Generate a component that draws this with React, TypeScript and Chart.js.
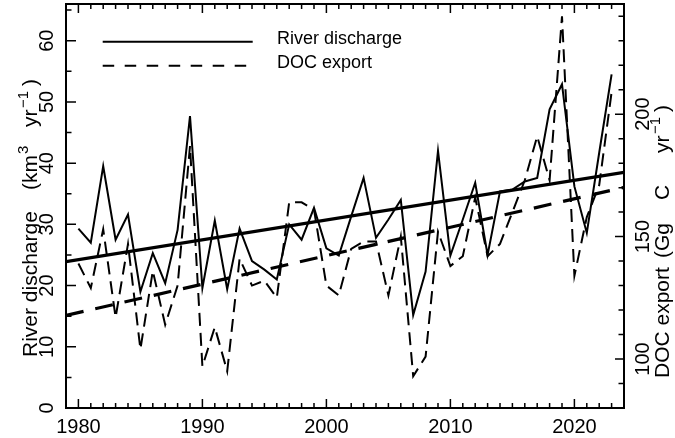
import React, { useEffect, useRef } from 'react';
import { Chart, registerables } from 'chart.js';

Chart.register(...registerables);

const years = [
  1980, 1981, 1982, 1983, 1984, 1985, 1986, 1987, 1988, 1989,
  1990, 1991, 1992, 1993, 1994, 1995, 1996, 1997, 1998, 1999,
  2000, 2001, 2002, 2003, 2004, 2005, 2006, 2007, 2008, 2009,
  2010, 2011, 2012, 2013, 2014, 2015, 2016, 2017, 2018, 2019,
  2020, 2021, 2022, 2023,
];

// River discharge (km3 yr-1), left axis
const riverDischarge = [
  29.3, 27.0, 39.5, 27.5, 31.6, 19.0, 25.3, 20.4, 29.1, 47.7,
  19.6, 30.6, 19.4, 29.3, 24.0, 22.6, 21.0, 30.0, 27.5, 32.7,
  26.1, 24.9, 31.3, 37.6, 27.8, 30.8, 34.0, 15.2, 22.3, 42.0,
  24.9, 30.8, 36.8, 25.0, 35.4, 35.7, 37.0, 37.6, 48.8, 52.9,
  36.2, 28.6, 41.7, 54.5,
];

// DOC export (Gg C yr-1), right axis
const docExport = [
  139, 129, 153, 117, 147, 104, 136, 114, 130, 187,
  97, 113, 95, 141, 130, 132, 125, 164, 164, 161,
  130, 126, 145, 148, 148, 126, 150, 93, 101, 152,
  138, 142, 166, 142, 147, 160, 173, 191, 173, 240,
  134, 158, 171, 209,
];

const trendYears = [1979, 2024];
const dischargeTrend = [23.9, 38.5];
const docTrend = [117.8, 170.1];

const xLabels = [1980, 1990, 2000, 2010, 2020];
const leftLabels = [0, 10, 20, 30, 40, 50, 60];
const rightLabels = [100, 150, 200];

const FONT = '"Liberation Sans", Arial, Helvetica, sans-serif';

type Part = { t: string; at: number; sup?: boolean };

function drawRotatedParts(
  ctx: CanvasRenderingContext2D,
  parts: Part[],
  baseX: number,
  size: number,
  supSize: number,
  supRaise: number
) {
  parts.forEach((p) => {
    ctx.save();
    ctx.translate(baseX, p.at);
    ctx.rotate(-Math.PI / 2);
    ctx.textAlign = 'left';
    ctx.textBaseline = 'alphabetic';
    ctx.font = `${p.sup ? supSize : size}px ${FONT}`;
    ctx.fillText(p.t, 0, p.sup ? -supRaise : 0);
    ctx.restore();
  });
}

function rotText(ctx: CanvasRenderingContext2D, text: string, x: number, y: number) {
  ctx.save();
  ctx.translate(x, y);
  ctx.rotate(-Math.PI / 2);
  ctx.textAlign = 'center';
  ctx.textBaseline = 'alphabetic';
  ctx.fillText(text, 0, 0);
  ctx.restore();
}

const framePlugin = {
  id: 'framePlugin',
  afterDraw(chart: any) {
    const ctx: CanvasRenderingContext2D = chart.ctx;
    const { left, right, top, bottom } = chart.chartArea;
    const xs = chart.scales.x;
    const yl = chart.scales.y;
    const yr = chart.scales.y2;
    ctx.save();
    ctx.strokeStyle = '#000';
    ctx.fillStyle = '#000';

    // ticks
    ctx.lineWidth = 1.5;
    ctx.beginPath();
    for (let yv = Math.ceil(xs.min); yv <= Math.floor(xs.max); yv++) {
      const px = xs.getPixelForValue(yv);
      if (px <= left + 1 || px >= right - 1) continue;
      const len = yv % 10 === 0 ? 9 : 5;
      ctx.moveTo(px, bottom);
      ctx.lineTo(px, bottom - len);
      ctx.moveTo(px, top);
      ctx.lineTo(px, top + len);
    }
    for (let v = 5; v < yl.max; v += 5) {
      const py = yl.getPixelForValue(v);
      const len = v % 10 === 0 ? 10 : 5.5;
      ctx.moveTo(left, py);
      ctx.lineTo(left + len, py);
    }
    for (let v = 90; v < yr.max; v += 10) {
      const py = yr.getPixelForValue(v);
      const len = v % 50 === 0 ? 9 : 5.5;
      ctx.moveTo(right, py);
      ctx.lineTo(right - len, py);
    }
    ctx.stroke();

    // frame
    ctx.lineWidth = 2;
    ctx.strokeRect(left, top, right - left, bottom - top);

    // tick labels
    ctx.font = `20px ${FONT}`;
    ctx.textAlign = 'center';
    ctx.textBaseline = 'alphabetic';
    xLabels.forEach((v) => {
      ctx.fillText(String(v), xs.getPixelForValue(v), 433);
    });
    leftLabels.forEach((v) => {
      rotText(ctx, String(v), 53, yl.getPixelForValue(v));
    });
    rightLabels.forEach((v) => {
      rotText(ctx, String(v), 649, yr.getPixelForValue(v));
    });

    // axis titles
    drawRotatedParts(
      ctx,
      [
        { t: 'River discharge', at: 357 },
        { t: '(km', at: 190 },
        { t: '3', at: 154, sup: true },
        { t: 'yr', at: 127 },
        { t: '\u22121', at: 108, sup: true },
        { t: ')', at: 86 },
      ],
      37,
      21,
      15,
      9
    );
    drawRotatedParts(
      ctx,
      [
        { t: 'DOC export', at: 378 },
        { t: '(Gg', at: 258 },
        { t: 'C', at: 200 },
        { t: 'yr', at: 153 },
        { t: '\u22121', at: 134, sup: true },
        { t: ')', at: 112 },
      ],
      669,
      21,
      15,
      9
    );

    // legend
    ctx.lineWidth = 2;
    ctx.beginPath();
    ctx.moveTo(102.7, 41.7);
    ctx.lineTo(252.7, 41.7);
    ctx.stroke();
    ctx.setLineDash([11.5, 10.5]);
    ctx.beginPath();
    ctx.moveTo(102.7, 65.7);
    ctx.lineTo(252.7, 65.7);
    ctx.stroke();
    ctx.setLineDash([]);
    ctx.font = `18px ${FONT}`;
    ctx.textAlign = 'left';
    ctx.fillText('River discharge', 277, 44);
    ctx.fillText('DOC export', 277, 68);

    ctx.restore();
  },
};

export default function App() {
  const canvasRef = useRef<HTMLCanvasElement | null>(null);

  useEffect(() => {
    document.body.style.margin = '0';
    const canvas = canvasRef.current;
    if (!canvas) return;
    const chart = new Chart(canvas, {
      type: 'line',
      data: {
        datasets: [
          {
            label: 'River discharge',
            data: years.map((yv, i) => ({ x: yv, y: riverDischarge[i] })),
            yAxisID: 'y',
            borderColor: '#000',
            borderWidth: 2,
            pointRadius: 0,
            tension: 0,
            fill: false,
          },
          {
            label: 'DOC export',
            data: years.map((yv, i) => ({ x: yv, y: docExport[i] })),
            yAxisID: 'y2',
            borderColor: '#000',
            borderWidth: 2,
            borderDash: [13, 7],
            pointRadius: 0,
            tension: 0,
            fill: false,
          },
          {
            label: 'Discharge trend',
            data: trendYears.map((yv, i) => ({ x: yv, y: dischargeTrend[i] })),
            yAxisID: 'y',
            borderColor: '#000',
            borderWidth: 3.2,
            pointRadius: 0,
            fill: false,
          },
          {
            label: 'DOC trend',
            data: trendYears.map((yv, i) => ({ x: yv, y: docTrend[i] })),
            yAxisID: 'y2',
            borderColor: '#000',
            borderWidth: 3.2,
            borderDash: [18, 12],
            pointRadius: 0,
            fill: false,
          },
        ],
      },
      options: {
        animation: false,
        responsive: false,
        devicePixelRatio: 1,
        layout: { padding: { top: 4, left: 0, right: 0, bottom: 0 } },
        plugins: {
          legend: { display: false },
          tooltip: { enabled: false },
        },
        scales: {
          x: {
            type: 'linear',
            min: 1979,
            max: 2024,
            ticks: { display: false },
            grid: { display: false },
            border: { display: false },
            afterFit: (s: any) => {
              s.height = 30;
            },
          },
          y: {
            type: 'linear',
            position: 'left',
            min: 0,
            max: 66,
            ticks: { display: false },
            grid: { display: false },
            border: { display: false },
            afterFit: (s: any) => {
              s.width = 66;
            },
          },
          y2: {
            type: 'linear',
            position: 'right',
            min: 80,
            max: 245,
            ticks: { display: false },
            grid: { display: false },
            border: { display: false },
            afterFit: (s: any) => {
              s.width = 51;
            },
          },
        },
      },
      plugins: [framePlugin],
    });
    return () => chart.destroy();
  }, []);

  return (
    <div style={{ width: 675, height: 438, background: '#fff' }}>
      <canvas ref={canvasRef} width={675} height={438} style={{ display: 'block' }} />
    </div>
  );
}
